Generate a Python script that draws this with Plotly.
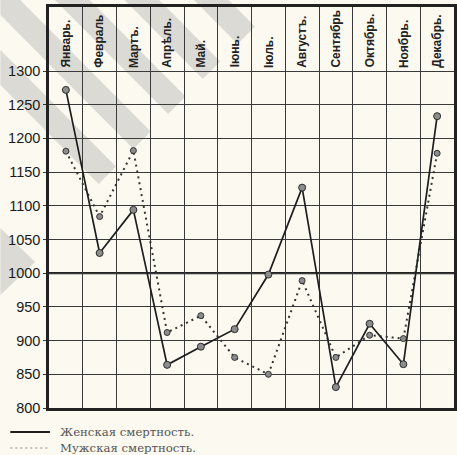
import plotly.graph_objects as go

months = ["Январь.", "Февраль", "Мартъ.", "Апрѣль.", "Май.", "Іюнь.",
          "Іюль.", "Августъ.", "Сентябрь", "Октябрь.", "Ноябрь.", "Декабрь."]
women = [1272, 1030, 1094, 864, 891, 917, 998, 1127, 831, 925, 865, 1233]
men = [1181, 1084, 1182, 912, 937, 875, 850, 989, 875, 908, 903, 1178]
y_ticks = [800, 850, 900, 950, 1000, 1050, 1100, 1150, 1200, 1250, 1300]
legend_labels = ["Женская смертность.", "Мужская смертность."]

W, H = 457, 455
ML, MR, MT, MB = 49, 0, 7, 47
PW, PH = W - ML - MR, H - MT - MB
BG = "#FBF9F0"
INK = "#222222"


def px2paper(x, y):
    return (x - ML) / PW, (H - MB - y) / PH


def poly_path(pts):
    p = [px2paper(x, y) for x, y in pts]
    return "M" + " L".join(f"{a:.4f},{b:.4f}" for a, b in p) + " Z"


# watermark stripes (decorative background)
K = 283


def entry(c):
    return (0, c) if c >= 0 else (-c, 0)


def cut(c):
    return ((K - c) / 2, (K + c) / 2)


shapes = []
for c1, c2 in [(50, 85), (-20, 15), (-90, -55), (-160, -125), (-230, -195)]:
    pts = [entry(c1)]
    if c1 < 0 < c2:
        pts.append((0, 0))
    pts += [entry(c2), cut(c2), cut(c1)]
    shapes.append(dict(type="path", xref="paper", yref="paper", path=poly_path(pts),
                       fillcolor="rgba(140,140,140,0.28)", line=dict(width=0), layer="below"))
shapes.append(dict(type="path", xref="paper", yref="paper",
                   path=poly_path([(0, 228), (0, 295), (35, 262)]),
                   fillcolor="rgba(140,140,140,0.28)", line=dict(width=0), layer="below"))

# thick 1000 line
shapes.append(dict(type="line", xref="paper", yref="y", x0=0, x1=1, y0=1000, y1=1000,
                   line=dict(color=INK, width=2.2), layer="below"))

x = list(range(len(months)))

fig = go.Figure()
fig.add_trace(go.Scatter(
    x=x, y=men, mode="lines+markers", name=legend_labels[1],
    line=dict(color="#333333", width=2.0, dash="2px,4px"),
    marker=dict(size=6, color="#8c8c8c", line=dict(color="#333333", width=1)),
    showlegend=False))
fig.add_trace(go.Scatter(
    x=x, y=women, mode="lines+markers", name=legend_labels[0],
    line=dict(color="#1e1e1e", width=1.7),
    marker=dict(size=7, color="#8c8c8c", line=dict(color="#2a2a2a", width=1)),
    showlegend=False))

annotations = []
for i, m in enumerate(months):
    annotations.append(dict(x=i, y=1302, xref="x", yref="y", text=m, textangle=-90,
                            showarrow=False, xanchor="center", yanchor="bottom",
                            font=dict(family="Liberation Sans, Arial, sans-serif",
                                      size=12, color=INK, weight="bold")))

# legend drawn below the chart
leg_y = [432, 448]
leg_dash = ["solid", "2px,3px"]
leg_w = [2.0, 1.2]
leg_col = ["#1e1e1e", "#888888"]
for lbl, yy, ds, lw, lc in zip(legend_labels, leg_y, leg_dash, leg_w, leg_col):
    x0, y0 = px2paper(10, yy)
    x1, _ = px2paper(50, yy)
    shapes.append(dict(type="line", xref="paper", yref="paper", x0=x0, x1=x1, y0=y0, y1=y0,
                       line=dict(color=lc, width=lw, dash=ds)))
    tx, _ = px2paper(58, yy)
    annotations.append(dict(x=tx, y=y0, xref="paper", yref="paper", text=lbl, showarrow=False,
                            xanchor="left", yanchor="middle",
                            font=dict(family="DejaVu Serif, Liberation Serif, serif",
                                      size=11.7, color="#555555")))

fig.update_layout(
    width=W, height=H,
    margin=dict(l=ML, r=MR, t=MT, b=MB, pad=0),
    paper_bgcolor=BG, plot_bgcolor=BG,
    font=dict(family="Liberation Sans, Arial, sans-serif", color=INK),
    shapes=shapes, annotations=annotations,
    showlegend=False,
)
fig.update_xaxes(range=[-0.5, len(months) - 0.5], tickvals=[i + 0.5 for i in range(len(months) - 1)],
                 showticklabels=False, ticks="", showgrid=True, gridcolor="#3a3a3a", gridwidth=1.1,
                 zeroline=False, showline=True, mirror=True, linecolor=INK, linewidth=2.5)
fig.update_yaxes(range=[800, 1395], tickvals=y_ticks, ticktext=[str(v) for v in y_ticks],
                 showgrid=True, gridcolor="#3a3a3a", gridwidth=1.1, zeroline=False,
                 showline=True, mirror=True, linecolor=INK, linewidth=2.5,
                 ticks="outside", ticklen=3, tickcolor="#3a3a3a",
                 tickfont=dict(size=14.5, color="#1a1a1a", family="Liberation Sans, Arial, sans-serif"))

fig.write_html("out.html", config={"displayModeBar": False},
               post_script="document.body.style.margin='0px';document.body.style.overflow='hidden';")
